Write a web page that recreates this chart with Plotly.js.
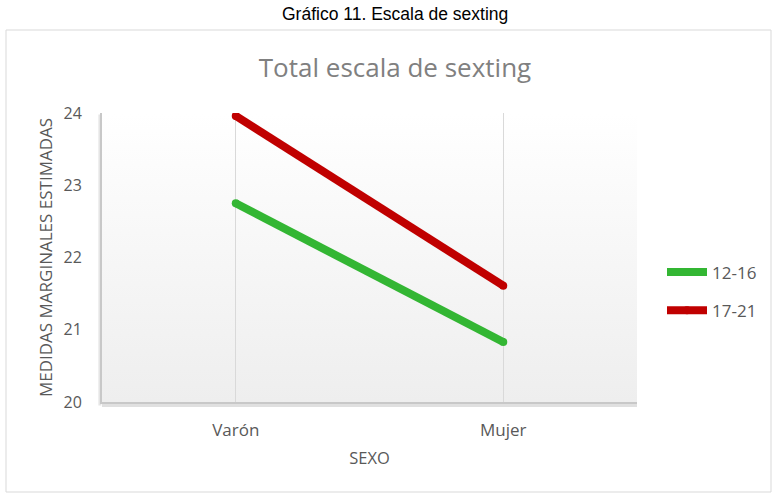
<!DOCTYPE html>
<html>
<head>
<meta charset="utf-8">
<script src="https://cdn.plot.ly/plotly-3.0.1.min.js"></script>
<style>html,body{margin:0;padding:0;background:#fff;}#chart{width:772px;height:493px;}</style>
</head>
<body>
<div id="chart"></div>
<script>
var categories = ['Varón', 'Mujer'];
var seriesNames = ['12-16', '17-21'];
var values1216 = [22.75, 20.83];
var values1721 = [23.96, 21.61];
var yTicks = [20, 21, 22, 23, 24];

var colors = ['#33b633', '#c00000'];
var font = '"Open Sans", Lato, sans-serif';

function lineTrace(name, vals, color) {
  return {
    type: 'scatter', mode: 'lines+markers', name: name,
    legendgroup: name,
    x: categories, y: vals,
    line: {color: color, width: 8},
    marker: {color: color, size: 8},
    hoverinfo: 'x+y+name'
  };
}

var data = [
  lineTrace(seriesNames[0], values1216, colors[0]),
  lineTrace(seriesNames[1], values1721, colors[1])
];

var gradSvg = '<svg xmlns="http://www.w3.org/2000/svg" width="10" height="100" preserveAspectRatio="none"><defs><linearGradient id="g" x1="0" y1="0" x2="0" y2="1"><stop offset="0" stop-color="#ffffff"/><stop offset="1" stop-color="#eeeeee"/></linearGradient></defs><rect width="10" height="100" fill="url(#g)"/></svg>';
var gradUri = 'data:image/svg+xml;base64,' + btoa(gradSvg);

var layout = {
  width: 772, height: 493,
  margin: {l: 102, r: 135, t: 113, b: 91, autoexpand: false},
  paper_bgcolor: '#ffffff',
  plot_bgcolor: 'rgba(0,0,0,0)',
  font: {family: font, color: '#595959', size: 16},
  title: {
    text: 'Total escala de sexting',
    font: {family: font, size: 26, color: '#808080'},
    x: 395 / 772, xanchor: 'center', xref: 'container',
    y: 1 - 68 / 493, yanchor: 'middle', yref: 'container'
  },
  xaxis: {
    type: 'category',
    range: [-0.5, 1.5],
    showgrid: true, gridcolor: '#d9d9d9', gridwidth: 1,
    zeroline: false,
    showline: true, linecolor: '#c8c8c8', linewidth: 2,
    ticks: 'outside', ticklen: 12, tickcolor: 'rgba(0,0,0,0)',
    tickfont: {size: 17, color: '#595959'},
    title: {text: 'SEXO', font: {size: 16.5, color: '#595959'}, standoff: 12},
    automargin: false,
    fixedrange: true
  },
  yaxis: {
    range: [20, 24],
    tickvals: yTicks,
    showgrid: false, zeroline: false,
    showline: true, linecolor: '#c8c8c8', linewidth: 2,
    ticks: 'outside', ticklen: 15, tickcolor: 'rgba(0,0,0,0)',
    tickfont: {size: 16, color: '#595959'},
    title: {text: 'MEDIDAS MARGINALES ESTIMADAS', font: {size: 17, color: '#595959'}, standoff: 7},
    automargin: false,
    fixedrange: true
  },
  legend: {
    xref: 'container', yref: 'container',
    x: 662 / 772, xanchor: 'left', y: 1 - 291.5 / 493, yanchor: 'middle',
    font: {size: 17, color: '#595959'},
    bgcolor: 'rgba(0,0,0,0)',
    itemwidth: 40,
    tracegroupgap: 13
  },
  images: [{
    source: gradUri, xref: 'paper', yref: 'paper',
    x: 0, y: 1, sizex: 1, sizey: 1, sizing: 'stretch',
    xanchor: 'left', yanchor: 'top', layer: 'below'
  }],
  shapes: [
    {type: 'rect', xref: 'paper', yref: 'paper',
     x0: (6 - 102) / 535, x1: (771 - 102) / 535,
     y0: (402 - 492) / 289, y1: (402 - 30) / 289,
     line: {color: '#d9d9d9', width: 1}, fillcolor: 'rgba(0,0,0,0)', layer: 'below'},
    {type: 'line', xref: 'paper', yref: 'paper',
     x0: -0.004, x1: -0.004, y0: -0.012, y1: 0.995,
     line: {color: 'rgba(0,0,0,0.10)', width: 3}, layer: 'below'},
    {type: 'line', xref: 'paper', yref: 'paper',
     x0: 0, x1: 1.0, y0: -0.012, y1: -0.012,
     line: {color: 'rgba(0,0,0,0.12)', width: 3}, layer: 'below'}
  ],
  annotations: [{
    text: 'Gráfico 11. Escala de sexting',
    xref: 'paper', yref: 'paper',
    x: (395 - 102) / 535, y: (402 - 14) / 289,
    xanchor: 'center', yanchor: 'middle', showarrow: false,
    font: {family: '"Liberation Sans", Arial, sans-serif', size: 17.5, color: '#000000'}
  }],
  showlegend: true
};

Plotly.newPlot('chart', data, layout, {displayModeBar: false, staticPlot: true});
</script>
</body>
</html>
